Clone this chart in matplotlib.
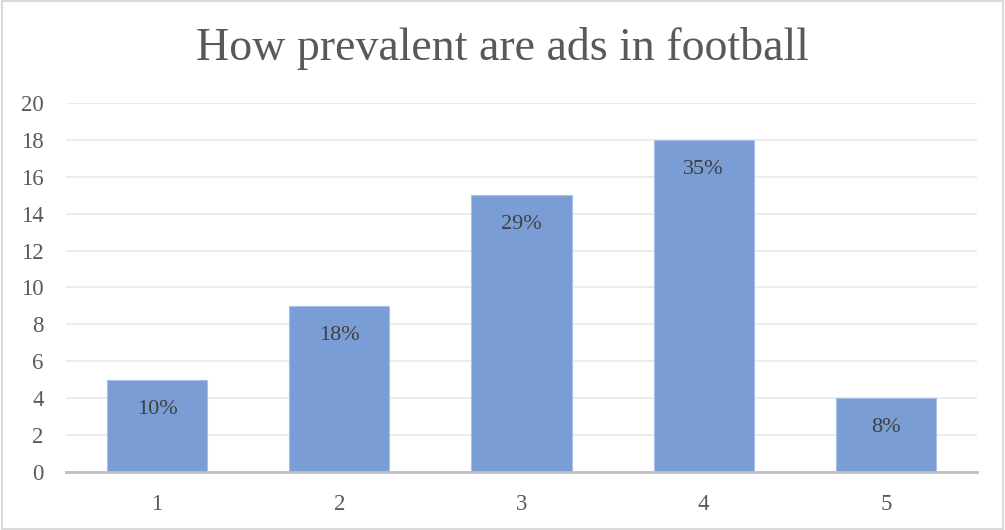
import matplotlib.pyplot as plt
from matplotlib.patches import Rectangle

# survey answers: rating 1-5 and how many people chose each
ratings = ['1', '2', '3', '4', '5']
counts = [5, 9, 15, 18, 4]
total = sum(counts)
pct_labels = [f'{round(100 * c / total)}%' for c in counts]

plt.rcParams['font.family'] = ['Liberation Serif', 'DejaVu Serif']

fig = plt.figure(figsize=(10.05, 5.3), dpi=100)
ax = fig.add_axes([0.0657, 0.1094, 0.9063, 0.6963])

bars = ax.bar(range(len(ratings)), counts, width=0.55, color='#7A9DD6',
              edgecolor='#A9C0E6', linewidth=0.8, zorder=3)

for bar, lab in zip(bars, pct_labels):
    ax.text(bar.get_x() + bar.get_width() / 2, bar.get_height() - 1.6, lab,
            ha='center', va='center', fontsize=16, color='#404040', zorder=4)

ax.set_xlim(-0.5, len(ratings) - 0.5)
ax.set_ylim(0, 20)
ax.set_yticks(range(0, 21, 2))
ax.set_xticks(range(len(ratings)))
ax.set_xticklabels(ratings)
ax.yaxis.grid(True, color='#EBEBEB', linewidth=1.3, zorder=0)
ax.set_axisbelow(True)

for side in ['top', 'right', 'left']:
    ax.spines[side].set_visible(False)
ax.spines['bottom'].set_color('#BFBFBF')
ax.spines['bottom'].set_linewidth(2)
ax.spines['bottom'].set_zorder(5)

ax.tick_params(axis='both', length=0, labelsize=16.5, labelcolor='#595959')
ax.tick_params(axis='x', pad=16)
ax.tick_params(axis='y', pad=16)

fig.text(0.5, 0.909, 'How prevalent are ads in football', ha='center', va='center',
         fontsize=33, color='#595959')

# thin frame around the whole chart
fig.patches.append(Rectangle((0.002, 0.002), 0.996, 0.996, transform=fig.transFigure,
                             fill=False, edgecolor='#D9D9D9', linewidth=1.5))

fig.savefig('out.png', dpi=100)
